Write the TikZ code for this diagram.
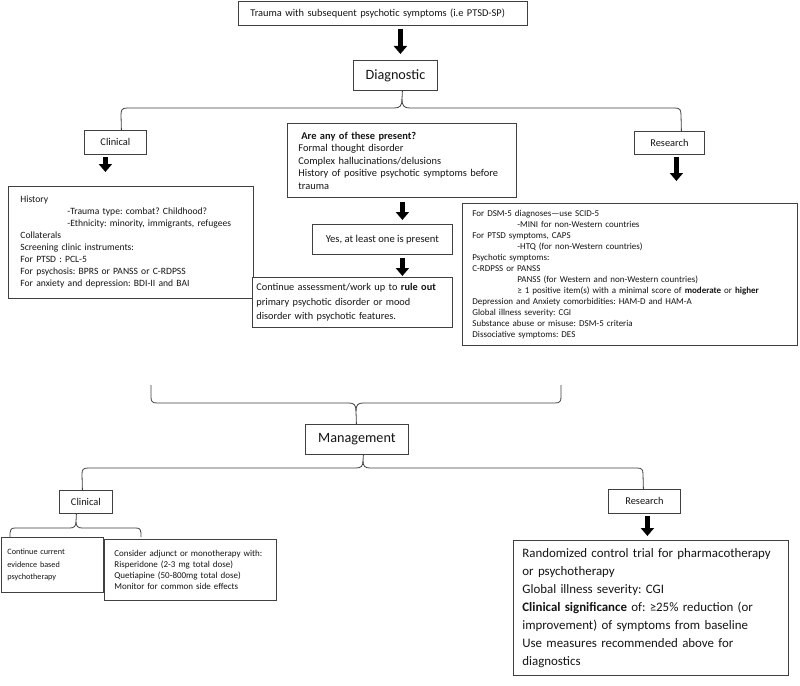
\documentclass[tikz,border=0pt]{standalone}
\usepackage{fontspec}
\setmainfont{Carlito}
\usetikzlibrary{arrows.meta}
\definecolor{bc}{HTML}{404040}
\definecolor{tc}{HTML}{151515}
\newcommand{\fsz}[2]{\fontsize{#1pt}{#2pt}\selectfont}
\begin{document}
\frenchspacing
\begin{tikzpicture}[x=1pt,y=-1pt,
  box/.style={draw=bc, line width=0.8pt, fill=white, inner sep=0pt, anchor=north west, text=tc, align=left,
    execute at begin node={\frenchspacing\hyphenpenalty=10000\exhyphenpenalty=10000}},
  bigarrow/.style={draw=black, line width=5pt, -{Triangle[width=13pt,length=8pt]}},
  brc/.style={draw=bc, line width=0.8pt}]
\fill[white] (0,0) rectangle (800,685);
\useasboundingbox (0,0) rectangle (800,685);

% --- diagnostic part ---
\node[box, minimum width=289pt, minimum height=24pt, text width=265pt, font=\fsz{10.4}{12.5}] (top) at (238,1)
  {Trauma with subsequent psychotic symptoms (i.e PTSD-SP)};
\node[box, minimum width=84pt, minimum height=30pt, align=center, font=\fsz{14.2}{16}] (diag) at (353,60) {Diagnostic};
\node[box, minimum width=62pt, minimum height=24pt, align=center, font=\fsz{10.4}{12}] (dclin) at (84,130) {Clinical};
\node[box, minimum width=70pt, minimum height=23pt, align=center, font=\fsz{10.4}{12}] (dres) at (634,131) {Research};
\node[box, minimum width=229pt, minimum height=74pt, text width=207pt, font=\fsz{10.4}{12.5}] (q) at (287,123)
  {\hspace*{3pt}\textbf{Are any of these present?}\\
   Formal thought disorder\\
   Complex hallucinations/delusions\\
   History of positive psychotic symptoms before\\
   trauma};
\node[box, minimum width=245pt, minimum height=112pt, text width=221pt, font=\fsz{9.6}{12}] (lbox) at (8,186)
  {History\\
   \hspace*{47pt}-Trauma type: combat? Childhood?\\
   \hspace*{47pt}-Ethnicity: minority, immigrants, refugees\\
   Collaterals\\
   Screening clinic instruments:\\
   For PTSD : PCL-5\\
   For psychosis: BPRS or PANSS or C-RDPSS\\
   For anxiety and depression: BDI-II and BAI};
\node[box, minimum width=140pt, minimum height=30pt, align=center, font=\fsz{10.6}{12.5}] (yes) at (312,224)
  {Yes, at least one is present};
\node[box, minimum width=200pt, minimum height=50pt, text width=192pt, font=\fsz{10.3}{14.5}] (rule) at (252,277)
  {Continue assessment/work up to \textbf{rule out}\\
   primary psychotic disorder or mood\\
   disorder with psychotic features.};
\node[box, minimum width=335pt, minimum height=142pt, text width=315pt, font=\fsz{9}{11}] (rbox) at (462,203)
  {For DSM-5 diagnoses—use SCID-5\\
   \hspace*{45pt}-MINI for non-Western countries\\
   For PTSD symptoms, CAPS\\
   \hspace*{45pt}-HTQ (for non-Western countries)\\
   Psychotic symptoms:\\
   C-RDPSS or PANSS\\
   \hspace*{45pt}PANSS (for Western and non-Western countries)\\
   \hspace*{45pt}≥ 1 positive item(s) with a minimal score of \textbf{moderate} or \textbf{higher}\\
   Depression and Anxiety comorbidities: HAM-D and HAM-A\\
   Global illness severity: CGI\\
   Substance abuse or misuse: DSM-5 criteria\\
   Dissociative symptoms: DES};

% --- management part ---
\node[box, minimum width=103pt, minimum height=30pt, align=center, font=\fsz{14.2}{16}] (mgmt) at (305,424) {Management};
\node[box, minimum width=53pt, minimum height=23pt, align=center, font=\fsz{10.4}{12}] (mclin) at (59,490) {Clinical};
\node[box, minimum width=72pt, minimum height=24pt, align=center, font=\fsz{10.4}{12}] (mres) at (608,489) {Research};
\node[box, minimum width=102pt, minimum height=55pt, text width=90pt, font=\fsz{8.2}{12.5}] (cont) at (1,537)
  {Continue current\\
   evidence based\\
   psychotherapy};
\node[box, minimum width=172pt, minimum height=61pt, text width=152pt, font=\fsz{9}{11.2}] (cons) at (104,539)
  {Consider adjunct or monotherapy with:\\
   Risperidone (2-3 mg total dose)\\
   Quetiapine (50-800mg total dose)\\
   Monitor for common side effects};
\node[box, minimum width=275pt, minimum height=135pt, text width=257pt, font=\fsz{12.9}{18}] (mbig) at (513,540)
  {Randomized control trial for pharmacotherapy\\
   or psychotherapy\\
   Global illness severity: CGI\\
   \textbf{Clinical significance} of: ≥25\% reduction (or\\
   improvement) of symptoms from baseline\\
   Use measures recommended above for\\
   diagnostics};

% --- arrows ---
\draw[bigarrow, shorten <=3pt, shorten >=6pt] ([xshift=17.5pt]top.south) -- ([xshift=5pt]diag.north);
\draw[bigarrow, shorten <=2pt, shorten >=14pt] ([xshift=-10pt]dclin.south) -- ([xshift=-25.5pt]lbox.north);
\draw[bigarrow, shorten <=4pt, shorten >=4pt] ([xshift=0.5pt]q.south) -- ([xshift=20pt]yes.north);
\draw[bigarrow, shorten <=3pt, shorten >=1pt] ([xshift=20pt]yes.south) -- ([xshift=50pt]rule.north);
\draw[bigarrow, shorten <=2pt, shorten >=22pt] ([xshift=7pt]dres.south) -- ([xshift=46.5pt]rbox.north);
\draw[bigarrow, shorten <=2pt, shorten >=4pt] ([xshift=3pt]mres.south) -- ([xshift=-3.5pt]mbig.north);

% --- braces ---
\draw[brc] ([xshift=7pt]diag.south) -- (402,99) .. controls (402,106) and (400,108) .. (394,108) -- (127,108)
  .. controls (122,108) and (121,110) .. (121,115) -- ([xshift=6pt]dclin.north);
\draw[brc] (402,99) .. controls (402,106) and (404,108) .. (410,108) -- (675,108)
  .. controls (680,108) and (681,110) .. (681,115) -- ([xshift=12pt]dres.north);

\coordinate (aL) at (151,385);
\coordinate (aR) at (561,385);
\draw[brc] (aL) -- (151,397) .. controls (151,401) and (152,403) .. (157,403) -- (349,403)
  .. controls (354,403) and (356,405) .. (356,411) -- ([xshift=-0.5pt]mgmt.north);
\draw[brc] (356,411) .. controls (356,405) and (358,403) .. (363,403) -- (555,403)
  .. controls (560,403) and (561,401) .. (561,397) -- (aR);

\draw[brc] ([xshift=6.5pt]mgmt.south) -- (363,461) .. controls (363,466) and (361,468) .. (356,468) -- (88,468)
  .. controls (83,468) and (82,470) .. (82,474) -- ([xshift=-3.5pt]mclin.north);
\draw[brc] (363,461) .. controls (363,466) and (365,468) .. (370,468) -- (637,468)
  .. controls (642,468) and (643,470) .. (643,474) -- ([xshift=-1pt]mres.north);

\coordinate (cL) at (10,537);
\coordinate (cR) at (141,537);
\draw[brc] ([xshift=-9.5pt]mclin.south) -- (76,522) .. controls (76,526) and (74,528) .. (70,528) -- (15,528)
  .. controls (11,528) and (10,530) .. (10,533) -- (cL);
\draw[brc] (76,522) .. controls (76,526) and (78,528) .. (82,528) -- (136,528)
  .. controls (140,528) and (141,530) .. (141,533) -- (cR);
\end{tikzpicture}
\end{document}
